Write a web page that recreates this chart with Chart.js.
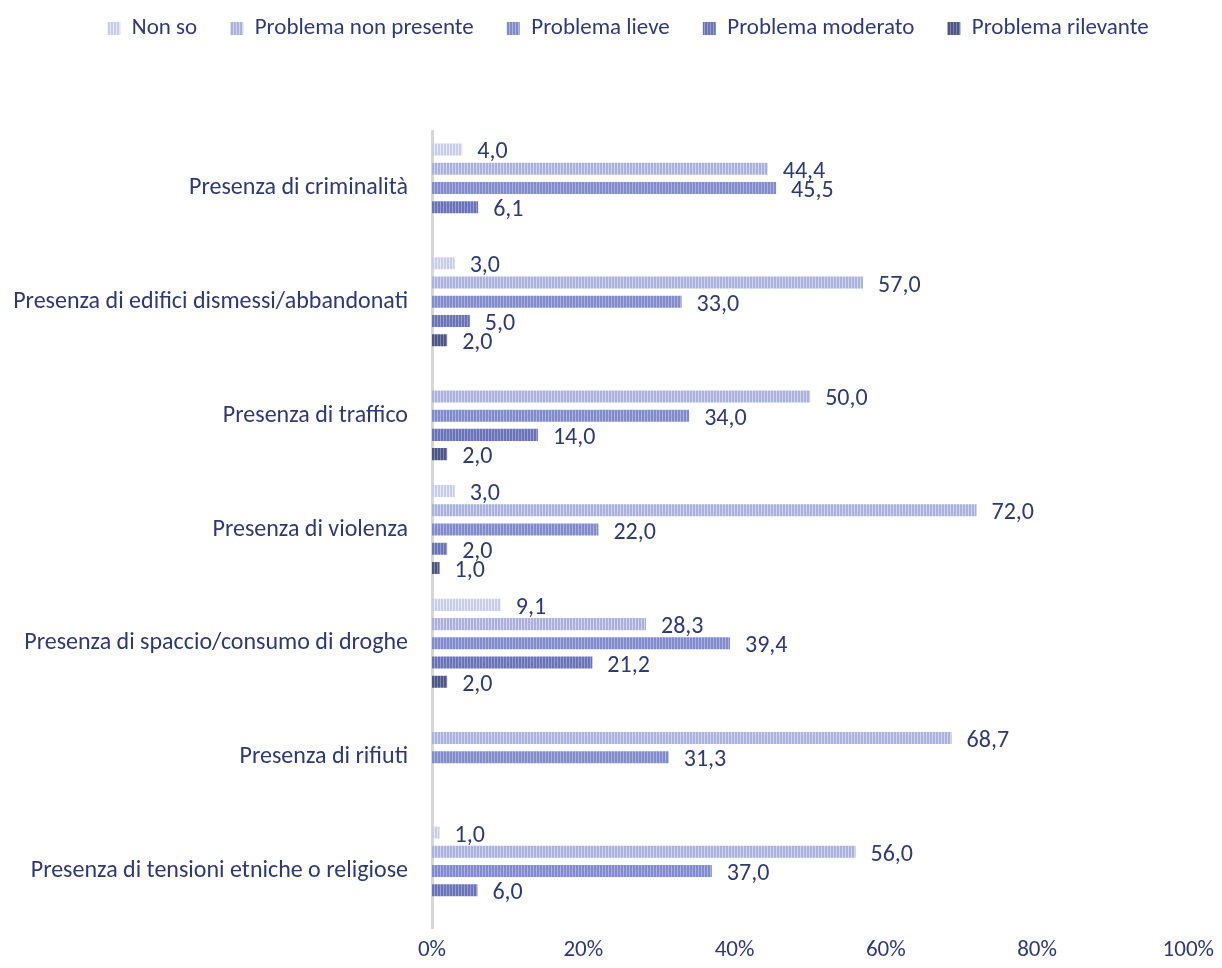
<!DOCTYPE html>
<html>
<head>
<meta charset="utf-8">
<script src="https://cdn.jsdelivr.net/npm/chart.js@4.4.1/dist/chart.umd.min.js"></script>
<style>
  html, body { margin: 0; padding: 0; background: #ffffff; }
  #wrap { width: 1222px; height: 968px; }
</style>
</head>
<body>
<div id="wrap"><canvas id="chart"></canvas></div>
<script>
const CATEGORIES = [
  "Presenza di criminalità",
  "Presenza di edifici dismessi/abbandonati",
  "Presenza di traffico",
  "Presenza di violenza",
  "Presenza di spaccio/consumo di droghe",
  "Presenza di rifiuti",
  "Presenza di tensioni etniche o religiose",
];

const SERIES_NAMES = [
  "Non so",
  "Problema non presente",
  "Problema lieve",
  "Problema moderato",
  "Problema rilevante",
];

const NON_SO = [4.0, 3.0, null, 3.0, 9.1, null, 1.0];
const NON_PRESENTE = [44.4, 57.0, 50.0, 72.0, 28.3, 68.7, 56.0];
const LIEVE = [45.5, 33.0, 34.0, 22.0, 39.4, 31.3, 37.0];
const MODERATO = [6.1, 5.0, 14.0, 2.0, 21.2, null, 6.0];
const RILEVANTE = [null, 2.0, 2.0, 1.0, 2.0, null, null];

const X_TICKS = [0, 20, 40, 60, 80, 100];
const X_TICK_LABELS = ["0%", "20%", "40%", "60%", "80%", "100%"];

const TEXT_COLOR = "#2e3a76";
const FONT = "Carlito, Lato, sans-serif";

// colore base + riga chiara per l'effetto a strisce verticali
const STRIPES = [
  ["#c9cde7", "#e6e8f4"],
  ["#aab1db", "#d0d4ec"],
  ["#818bcb", "#abb2de"],
  ["#6a73b5", "#979ed1"],
  ["#4e5688", "#7e85ac"],
];

function makeStripe(base, line) {
  const c = document.createElement("canvas");
  c.width = 3;
  c.height = 1;
  const x = c.getContext("2d");
  x.fillStyle = base;
  x.fillRect(0, 0, 3, 1);
  x.fillStyle = line;
  x.fillRect(2, 0, 1, 1);
  return x.createPattern(c, "repeat");
}

function fmt(v) {
  return v.toFixed(1).replace(".", ",");
}

const valueLabels = {
  id: "valueLabels",
  afterDatasetsDraw(chart) {
    const { ctx } = chart;
    ctx.save();
    ctx.font = "24px " + FONT;
    ctx.fillStyle = TEXT_COLOR;
    ctx.textAlign = "left";
    ctx.textBaseline = "middle";
    chart.data.datasets.forEach((ds, i) => {
      const meta = chart.getDatasetMeta(i);
      meta.data.forEach((bar, j) => {
        const v = ds.data[j];
        if (v === null || v === undefined) return;
        ctx.fillText(fmt(v), bar.x + 15, bar.y + 3);
      });
    });
    ctx.restore();
  }
};

// legenda più alta per lasciare spazio sopra il grafico, centrata un po' a destra
const legendSpace = {
  id: "legendSpace",
  beforeInit(chart) {
    const origFit = chart.legend.fit;
    chart.legend.fit = function () {
      origFit.bind(chart.legend)();
      this.height = 131;
    };
  },
  afterLayout(chart) {
    chart.legend.top = -16;
    chart.legend.left = 65;
    chart.legend.right = 1191;
  }
};

const SERIES_DATA = [NON_SO, NON_PRESENTE, LIEVE, MODERATO, RILEVANTE];

const ctx = document.getElementById("chart").getContext("2d");

new Chart(ctx, {
  type: "bar",
  data: {
    labels: CATEGORIES,
    datasets: SERIES_NAMES.map((name, i) => ({
      label: name,
      data: SERIES_DATA[i],
      backgroundColor: makeStripe(STRIPES[i][0], STRIPES[i][1]),
      borderWidth: 0,
      categoryPercentage: 0.845,
      barPercentage: 0.625,
    })),
  },
  options: {
    indexAxis: "y",
    responsive: true,
    maintainAspectRatio: false,
    animation: false,
    layout: {
      padding: { top: 0, left: 4, right: 31, bottom: 0 }
    },
    plugins: {
      legend: {
        position: "top",
        labels: {
          boxWidth: 13,
          boxHeight: 13,
          padding: 33,
          color: TEXT_COLOR,
          font: { family: FONT, size: 23 }
        }
      },
      tooltip: { enabled: false }
    },
    scales: {
      x: {
        min: 0,
        max: 100,
        afterBuildTicks(axis) {
          axis.ticks = X_TICKS.map((v) => ({ value: v }));
        },
        afterFit(axis) {
          axis.height = 40;
        },
        ticks: {
          color: TEXT_COLOR,
          padding: 8,
          font: { family: FONT, size: 23 },
          callback: (value, index) => X_TICK_LABELS[index]
        },
        grid: { display: false, drawTicks: false },
        border: { display: false }
      },
      y: {
        afterFit(axis) {
          axis.width = 428;
        },
        ticks: {
          color: TEXT_COLOR,
          padding: 24,
          font: { family: FONT, size: 24 }
        },
        grid: { display: false, drawTicks: false },
        border: { display: true, color: "#d6d6d6", width: 3 }
      }
    }
  },
  plugins: [valueLabels, legendSpace]
});
</script>
</body>
</html>
